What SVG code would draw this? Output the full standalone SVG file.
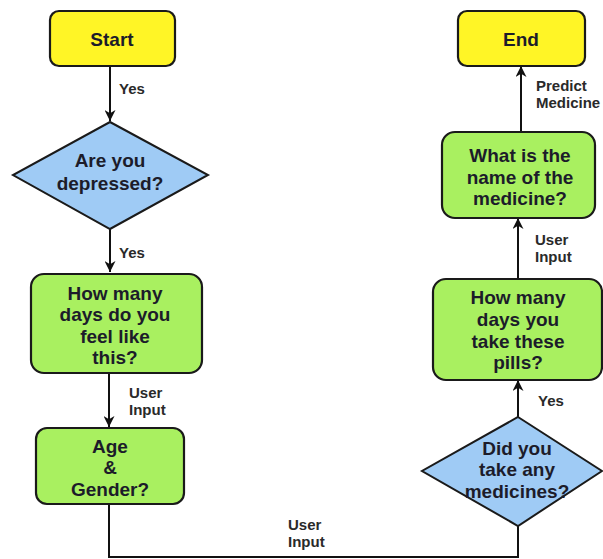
<svg xmlns="http://www.w3.org/2000/svg" width="603" height="559" viewBox="0 0 603 559">
<defs>
<marker id="ah" viewBox="0 0 10 10" refX="10" refY="5" markerWidth="11" markerHeight="11" markerUnits="userSpaceOnUse" orient="auto">
<path d="M0,0 L10,5 L0,10 L3,5 z" fill="#111"/>
</marker>
<style>
.term{fill:#FFF526;stroke:#1a1a1a;stroke-width:2.2}
.proc{fill:#A9F060;stroke:#1a1a1a;stroke-width:2.2}
.dec{fill:#9FCBF5;stroke:#1a1a1a;stroke-width:2}
.t{font-family:"Liberation Sans",Arial,sans-serif;font-weight:bold;font-size:19px;fill:#1c1c2a;text-anchor:middle;dominant-baseline:central}
.l{font-family:"Liberation Sans",Arial,sans-serif;font-weight:bold;font-size:15px;fill:#2a2a2a}
.c{fill:none;stroke:#111;stroke-width:2}
</style>
</defs>
<g id="connectors">
<line class="c" x1="110" y1="66" x2="110" y2="121" marker-end="url(#ah)"/>
<line class="c" x1="110" y1="229" x2="110" y2="272" marker-end="url(#ah)"/>
<line class="c" x1="109" y1="373" x2="109" y2="427" marker-end="url(#ah)"/>
<polyline class="c" points="109,504 109,557 518,557 518,526"/>
<line class="c" x1="518" y1="417" x2="518" y2="380" marker-end="url(#ah)"/>
<line class="c" x1="518" y1="279" x2="518" y2="218" marker-end="url(#ah)"/>
<line class="c" x1="521" y1="132" x2="521" y2="66" marker-end="url(#ah)"/>
<text class="l" x="119" y="94">Yes</text>
<text class="l" x="119" y="258">Yes</text>
<text class="l" x="129" y="398">User</text>
<text class="l" x="129" y="415">Input</text>
<text class="l" x="288" y="530">User</text>
<text class="l" x="288" y="547">Input</text>
<text class="l" x="538" y="406">Yes</text>
<text class="l" x="535" y="245">User</text>
<text class="l" x="535" y="262">Input</text>
<text class="l" x="536" y="91">Predict</text>
<text class="l" x="536" y="108">Medicine</text>
</g>
<g id="start">
<rect class="term" x="50" y="11" width="125" height="55" rx="9"/>
<text class="t" x="112" y="39">Start</text>
</g>
<g id="depressed">
<polygon class="dec" points="110,122 208,175 110,229 13,175"/>
<text class="t" x="110" y="160">Are you</text>
<text class="t" x="110" y="183">depressed?</text>
</g>
<g id="days-feel">
<rect class="proc" x="31" y="274" width="171" height="99" rx="13"/>
<text class="t" x="115" y="293">How many</text>
<text class="t" x="115" y="314">days do you</text>
<text class="t" x="115" y="336">feel like</text>
<text class="t" x="115" y="357">this?</text>
</g>
<g id="age-gender">
<rect class="proc" x="36" y="428" width="148" height="76" rx="11"/>
<text class="t" x="110" y="446">Age</text>
<text class="t" x="110" y="467">&amp;</text>
<text class="t" x="110" y="489">Gender?</text>
</g>
<g id="take-medicines">
<polygon class="dec" points="518,417 602,471 518,526 422,471"/>
<text class="t" x="517" y="448">Did you</text>
<text class="t" x="517" y="469">take any</text>
<text class="t" x="517" y="491">medicines?</text>
</g>
<g id="days-pills">
<rect class="proc" x="433" y="279" width="169" height="101" rx="13"/>
<text class="t" x="518" y="297">How many</text>
<text class="t" x="518" y="319">days you</text>
<text class="t" x="518" y="341">take these</text>
<text class="t" x="518" y="362">pills?</text>
</g>
<g id="medicine-name">
<rect class="proc" x="442" y="132" width="153" height="86" rx="13"/>
<text class="t" x="520" y="155">What is the</text>
<text class="t" x="520" y="177">name of the</text>
<text class="t" x="520" y="198">medicine?</text>
</g>
<g id="end">
<rect class="term" x="458" y="11" width="127" height="55" rx="9"/>
<text class="t" x="521" y="39">End</text>
</g>
</svg>
